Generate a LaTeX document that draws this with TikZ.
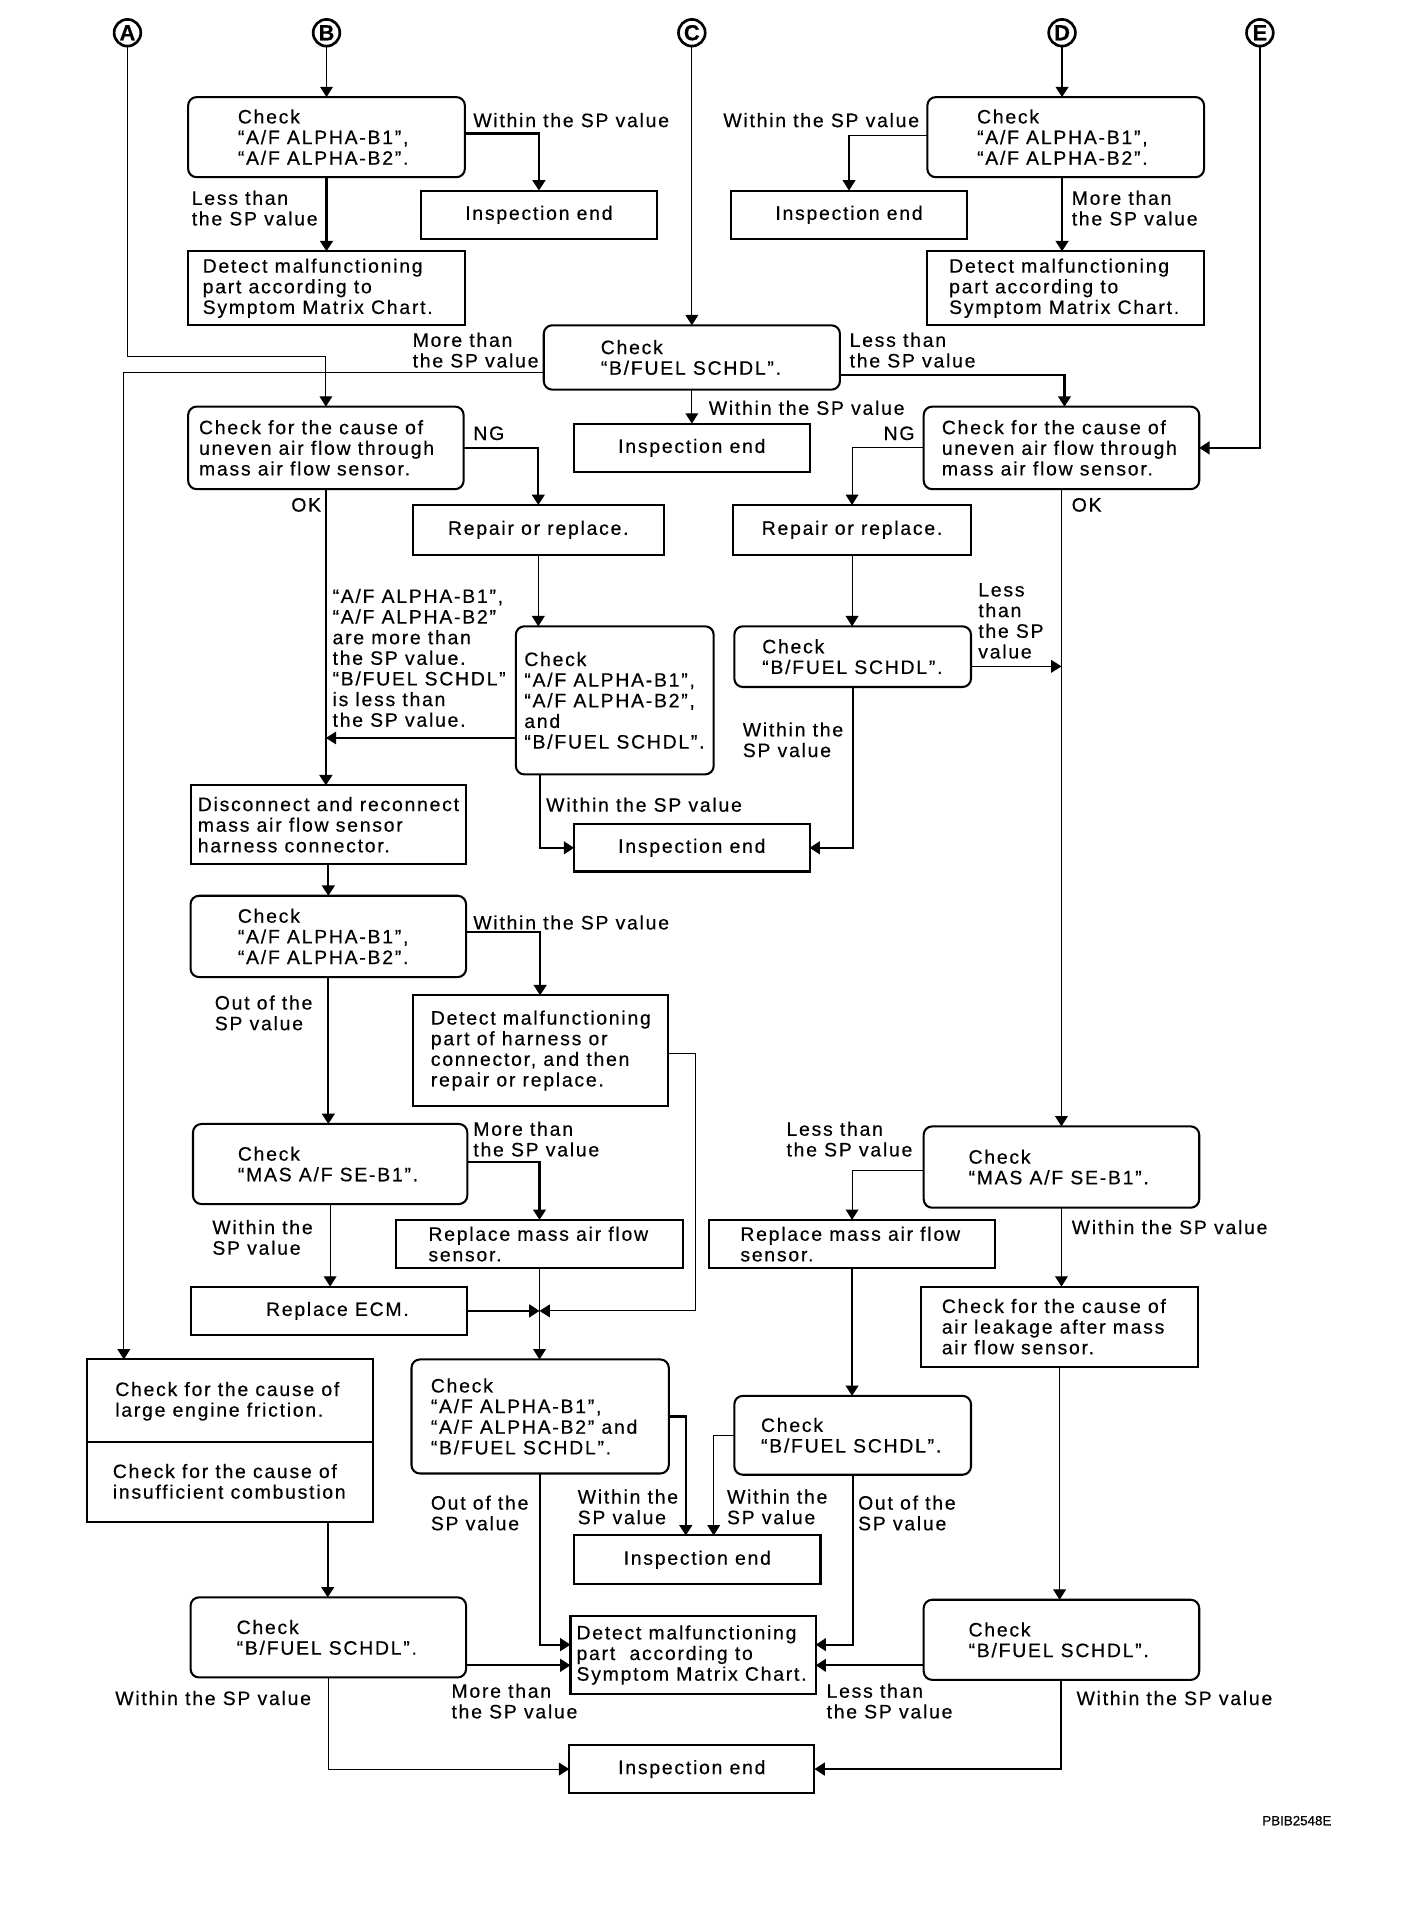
\documentclass[tikz,border=0pt]{standalone}
\usepackage{fontspec}
\setmainfont{Liberation Sans}[LetterSpace=9,FakeBold=0.4]
\usetikzlibrary{arrows.meta}
\newcommand\mybox[7]{\node[#1, minimum width={#5-#3}, minimum height={#6-#4}] (#2) at ({(#3+#5)/2},{(#4+#6)/2}) {#7};}
\begin{document}
\begin{tikzpicture}[x=1pt,y=-1pt,
 every node/.style={inner sep=0pt, outer sep=0pt, font=\fontsize{16}{17}\selectfont},
 sq/.style={draw, line width=1.7pt, align=center},
 rd/.style={draw, line width=1.7pt, rounded corners=7pt, align=center},
 lbl/.style={anchor=west, align=left},
 circ/.style={draw, circle, line width=2.2pt, minimum size=22pt, font=\fontsize{18}{18}\selectfont\bfseries\addfontfeature{LetterSpace=0}},
 tip/.style={-{Triangle[length=8.5pt,width=10.5pt]}},
 thk/.style={line width=1.7pt},
 thn/.style={line width=0.9pt},
]
\fill[white] (0,0) rectangle (1160,1583.5);
\useasboundingbox (0,0) rectangle (1160,1583.5);

% circled connectors
\node[circ] (cA) at (105,27) {A};
\node[circ] (cB) at (269,27) {B};
\node[circ] (cC) at (570,27) {C};
\node[circ] (cD) at (875,27) {D};
\node[circ] (cE) at (1038,27) {E};

% boxes
\mybox{rd}{b1}{155}{80}{383}{146}{}
\node[lbl] (b1t) at (196,113) {Check\\“A/F ALPHA-B1”,\\“A/F ALPHA-B2”.};
\mybox{sq}{ie1}{347}{157}{541}{197}{Inspection end}
\mybox{sq}{d1}{155}{207}{383}{268}{}
\node[lbl] (d1t) at (167,237.5) {Detect malfunctioning\\part according to\\Symptom Matrix Chart.};

\mybox{rd}{b2}{764}{80}{992}{146}{}
\node[lbl] (b2t) at (805,113) {Check\\“A/F ALPHA-B1”,\\“A/F ALPHA-B2”.};
\mybox{sq}{ie2}{602}{157}{797}{197}{Inspection end}
\mybox{sq}{d2}{764}{207}{992}{268}{}
\node[lbl] (d2t) at (782,237.5) {Detect malfunctioning\\part according to\\Symptom Matrix Chart.};

\mybox{rd}{fs1}{448}{268}{692}{321}{}
\node[lbl] (fs1t) at (495,294.5) {Check\\“B/FUEL SCHDL”.};
\mybox{sq}{ie3}{473}{349}{667}{389}{Inspection end}

\mybox{rd}{cu1}{155}{335}{382}{403}{}
\node[lbl] (cu1t) at (164,369) {Check for the cause of\\uneven air flow through\\mass air flow sensor.};
\mybox{sq}{rr1}{340}{416}{547}{457}{Repair or replace.}
\mybox{rd}{ck3}{425}{516}{588}{638}{}
\node[lbl] (ck3t) at (432,577) {Check\\“A/F ALPHA-B1”,\\“A/F ALPHA-B2”,\\and\\“B/FUEL SCHDL”.};
\mybox{sq}{ie4}{473}{679}{667}{718}{Inspection end}

\mybox{rd}{cu2}{761}{335}{988}{403}{}
\node[lbl] (cu2t) at (776,369) {Check for the cause of\\uneven air flow through\\mass air flow sensor.};
\mybox{sq}{rr2}{604}{416}{800}{457}{Repair or replace.}
\mybox{rd}{fs2}{605}{516}{800}{566}{}
\node[lbl] (fs2t) at (628,541) {Check\\“B/FUEL SCHDL”.};

\mybox{sq}{dr}{157}{647}{384}{712}{}
\node[lbl] (drt) at (163,679.5) {Disconnect and reconnect\\mass air flow sensor\\harness connector.};
\mybox{rd}{ck4}{157}{738}{384}{805}{}
\node[lbl] (ck4t) at (196,771.5) {Check\\“A/F ALPHA-B1”,\\“A/F ALPHA-B2”.};
\mybox{sq}{dh}{340}{820}{550}{911}{}
\node[lbl] (dht) at (355,865.5) {Detect malfunctioning\\part of harness or\\connector, and then\\repair or replace.};
\mybox{rd}{mas1}{159}{926}{385}{992}{}
\node[lbl] (mas1t) at (196,959) {Check\\“MAS A/F SE-B1”.};
\mybox{sq}{rm1}{326}{1005}{563}{1045}{}
\node[lbl] (rm1t) at (353,1025) {Replace mass air flow\\sensor.};
\mybox{sq}{re}{157}{1060}{385}{1100}{}
\node (ret) at (278,1080) {Replace ECM.};

\mybox{rd}{mas2}{761}{928}{988}{995}{}
\node[lbl] (mas2t) at (798,961.5) {Check\\“MAS A/F SE-B1”.};
\mybox{sq}{rm2}{584}{1005}{820}{1045}{}
\node[lbl] (rm2t) at (610,1025) {Replace mass air flow\\sensor.};
\mybox{sq}{ca}{759}{1060}{987}{1126}{}
\node[lbl] (cat) at (776,1093) {Check for the cause of\\air leakage after mass\\air flow sensor.};

\mybox{sq}{fr}{72}{1120}{307}{1254}{}
\draw[line width=1.7pt] ([yshift=-68]fr.north west) -- ([yshift=-68]fr.north east);
\node[lbl] (fr1t) at (95,1154.5) {Check for the cause of\\large engine friction.};
\node[lbl] (fr2t) at (93,1220.5) {Check for the cause of\\insufficient combustion};
\mybox{rd}{ck5}{339}{1120}{551}{1214}{}
\node[lbl] (ck5t) at (355,1167) {Check\\“A/F ALPHA-B1”,\\“A/F ALPHA-B2” and\\“B/FUEL SCHDL”.};
\mybox{sq}{ie5}{473}{1265}{676}{1305}{Inspection end}
\mybox{rd}{fs3}{605}{1150}{800}{1215}{}
\node[lbl] (fs3t) at (627,1182.5) {Check\\“B/FUEL SCHDL”.};
\mybox{sq}{dm}{470}{1331}{672}{1396}{}
\node[lbl] (dmt) at (475,1363.5) {Detect malfunctioning\\part\ \ according to\\Symptom Matrix Chart.};
\mybox{rd}{fs4}{157}{1316}{384}{1382}{}
\node[lbl] (fs4t) at (195,1349) {Check\\“B/FUEL SCHDL”.};
\mybox{sq}{ie6}{469}{1438}{671}{1477}{Inspection end}
\mybox{rd}{fs5}{761}{1318}{988}{1384}{}
\node[lbl] (fs5t) at (798,1351) {Check\\“B/FUEL SCHDL”.};

% labels
\node[lbl] (l1) at (390,99) {Within the SP value};
\node[lbl] (l2) at (158,171.5) {Less than\\the SP value};
\node[lbl] (l3) at (596,99) {Within the SP value};
\node[lbl] (l4) at (883,171.5) {More than\\the SP value};
\node[lbl] (l5) at (340,288.5) {More than\\the SP value};
\node[lbl] (l6) at (700,288.5) {Less than\\the SP value};
\node[lbl] (l7) at (584,336) {Within the SP value};
\node[lbl] (l8) at (390,357) {NG};
\node[lbl] (l9) at (240,416) {OK};
\node[lbl] (l10) at (274,542) {“A/F ALPHA-B1”,\\“A/F ALPHA-B2”\\are more than\\the SP value.\\“B/FUEL SCHDL”\\is less than\\the SP value.};
\node[lbl] (l11) at (450,663) {Within the SP value};
\node[lbl] (l12) at (728,357) {NG};
\node[lbl] (l13) at (883,416) {OK};
\node[lbl] (l14) at (806,511.5) {Less\\than\\the SP\\value};
\node[lbl] (l15) at (612,609.5) {Within the\\SP value};
\node[lbl] (l16) at (390,760) {Within the SP value};
\node[lbl] (l17) at (177,834.5) {Out of the\\SP value};
\node[lbl] (l18) at (390,938.5) {More than\\the SP value};
\node[lbl] (l19) at (175,1019.5) {Within the\\SP value};
\node[lbl] (l20) at (648,938.5) {Less than\\the SP value};
\node[lbl] (l21) at (883,1011) {Within the SP value};
\node[lbl] (l22) at (476,1241.5) {Within the\\SP value};
\node[lbl] (l23) at (355,1246.5) {Out of the\\SP value};
\node[lbl] (l24) at (599,1241.5) {Within the\\SP value};
\node[lbl] (l25) at (707,1246.5) {Out of the\\SP value};
\node[lbl] (l26) at (372,1401.5) {More than\\the SP value};
\node[lbl] (l27) at (95,1399) {Within the SP value};
\node[lbl] (l28) at (681,1401.5) {Less than\\the SP value};
\node[lbl] (l29) at (887,1399) {Within the SP value};
\node[lbl, font=\fontsize{11}{11}\selectfont\addfontfeature{LetterSpace=0}] (pbib) at (1040,1500) {PBIB2548E};

% connectors
\draw[thn,tip] (cB) -- (b1.north);
\draw[thk,tip] ([yshift=3]b1.east) -| (ie1.north);
\draw[thk,tip] (b1.south) -- (d1.north);
\draw[thk,tip] (cD) -- (cD |- b2.north);
\draw[thn,tip] ([yshift=1]b2.west) -| (ie2.north);
\draw[thk,tip] (cD |- b2.south) -- (cD |- d2.north);
\draw[thn,tip] (cC) -- (fs1.north);
\draw[thn,tip] ([yshift=-12.5]fs1.west) -| ([xshift=-87.5]fr.north);
\draw[thn,tip] (cA.south) -- ++(0,256) -| (cu1.north);
\draw[thk,tip] ([yshift=-14.5]fs1.east) -| ([xshift=2.5]cu2.north);
\draw[thn,tip] (fs1.south) -- (ie3.north);
\draw[thk,tip] (cu1.east) -| (rr1.north);
\draw[thk,tip] (cu1.south) -- (cu1.south |- dr.north);
\draw[thn,tip] (rr1.south) -- (rr1.south |- ck3.north);
\draw[thn,tip] ([yshift=-31]ck3.west) -- ([yshift=-31]ck3.west -| cu1.south);
\draw[thk,tip] ([xshift=-61.5]ck3.south) |- (ie4.west);
\draw[thk,tip] (cE.south) |- (cu2.east);
\draw[thn,tip] (cu2.west) -| (rr2.north);
\draw[thn,tip] (cu2.south) -- (cu2.south |- mas2.north);
\draw[thn,tip] (rr2.south) -- (rr2.south |- fs2.north);
\draw[thn,tip] ([yshift=-8]fs2.east) -- ([yshift=-8]fs2.east -| cu2.south);
\draw[thk,tip] (fs2.south) |- (ie4.east);
\draw[thk,tip] (dr.south) -- (ck4.north);
\draw[thk,tip] ([yshift=3.5]ck4.east) -| (dh.north);
\draw[thk,tip] (ck4.south) -- (ck4.south |- mas1.north);
\draw[thk,tip] ([yshift=2]mas1.east) -| (rm1.north);
\draw[thn,tip] (mas1.south) -- (mas1.south |- re.north);
\coordinate (jn) at (rm1.south |- re.east);
\draw[thk,tip] (re.east) -- (jn);
\draw[thn,tip] ([yshift=-2.5]dh.east) -- ++(23,0) |- (jn);
\draw[thn,tip] (rm1.south) -- (rm1.south |- ck5.north);
\draw[thn,tip] ([yshift=-2.5]mas2.west) -| (rm2.north);
\draw[thk,tip] (rm2.south) -- (rm2.south |- fs3.north);
\draw[thn,tip] (mas2.south) -- (mas2.south |- ca.north);
\draw[thn,tip] (ca.south) -- (ca.south |- fs5.north);
\draw[thk,tip] ([xshift=80.5]fr.south) -- ([xshift=80.5]fr.south |- fs4.north);
\draw[thk,tip] (ck5.east) -| ([xshift=-9.5]ie5.north);
\draw[thk,tip] (ck5.south) |- ([yshift=8.5]dm.west);
\draw[thn,tip] (fs3.west) -| ([xshift=13.5]ie5.north);
\draw[thk,tip] (fs3.south) |- ([yshift=8.5]dm.east);
\draw[thk,tip] ([yshift=-23]fs4.east) -- ([yshift=-8.5]dm.west);
\draw[thk,tip] ([yshift=-21]fs5.west) -- ([yshift=-8.5]dm.east);
\draw[thn,tip] (fs4.south) |- (ie6.west);
\draw[thk,tip] (fs5.south) |- (ie6.east);
\end{tikzpicture}
\end{document}
